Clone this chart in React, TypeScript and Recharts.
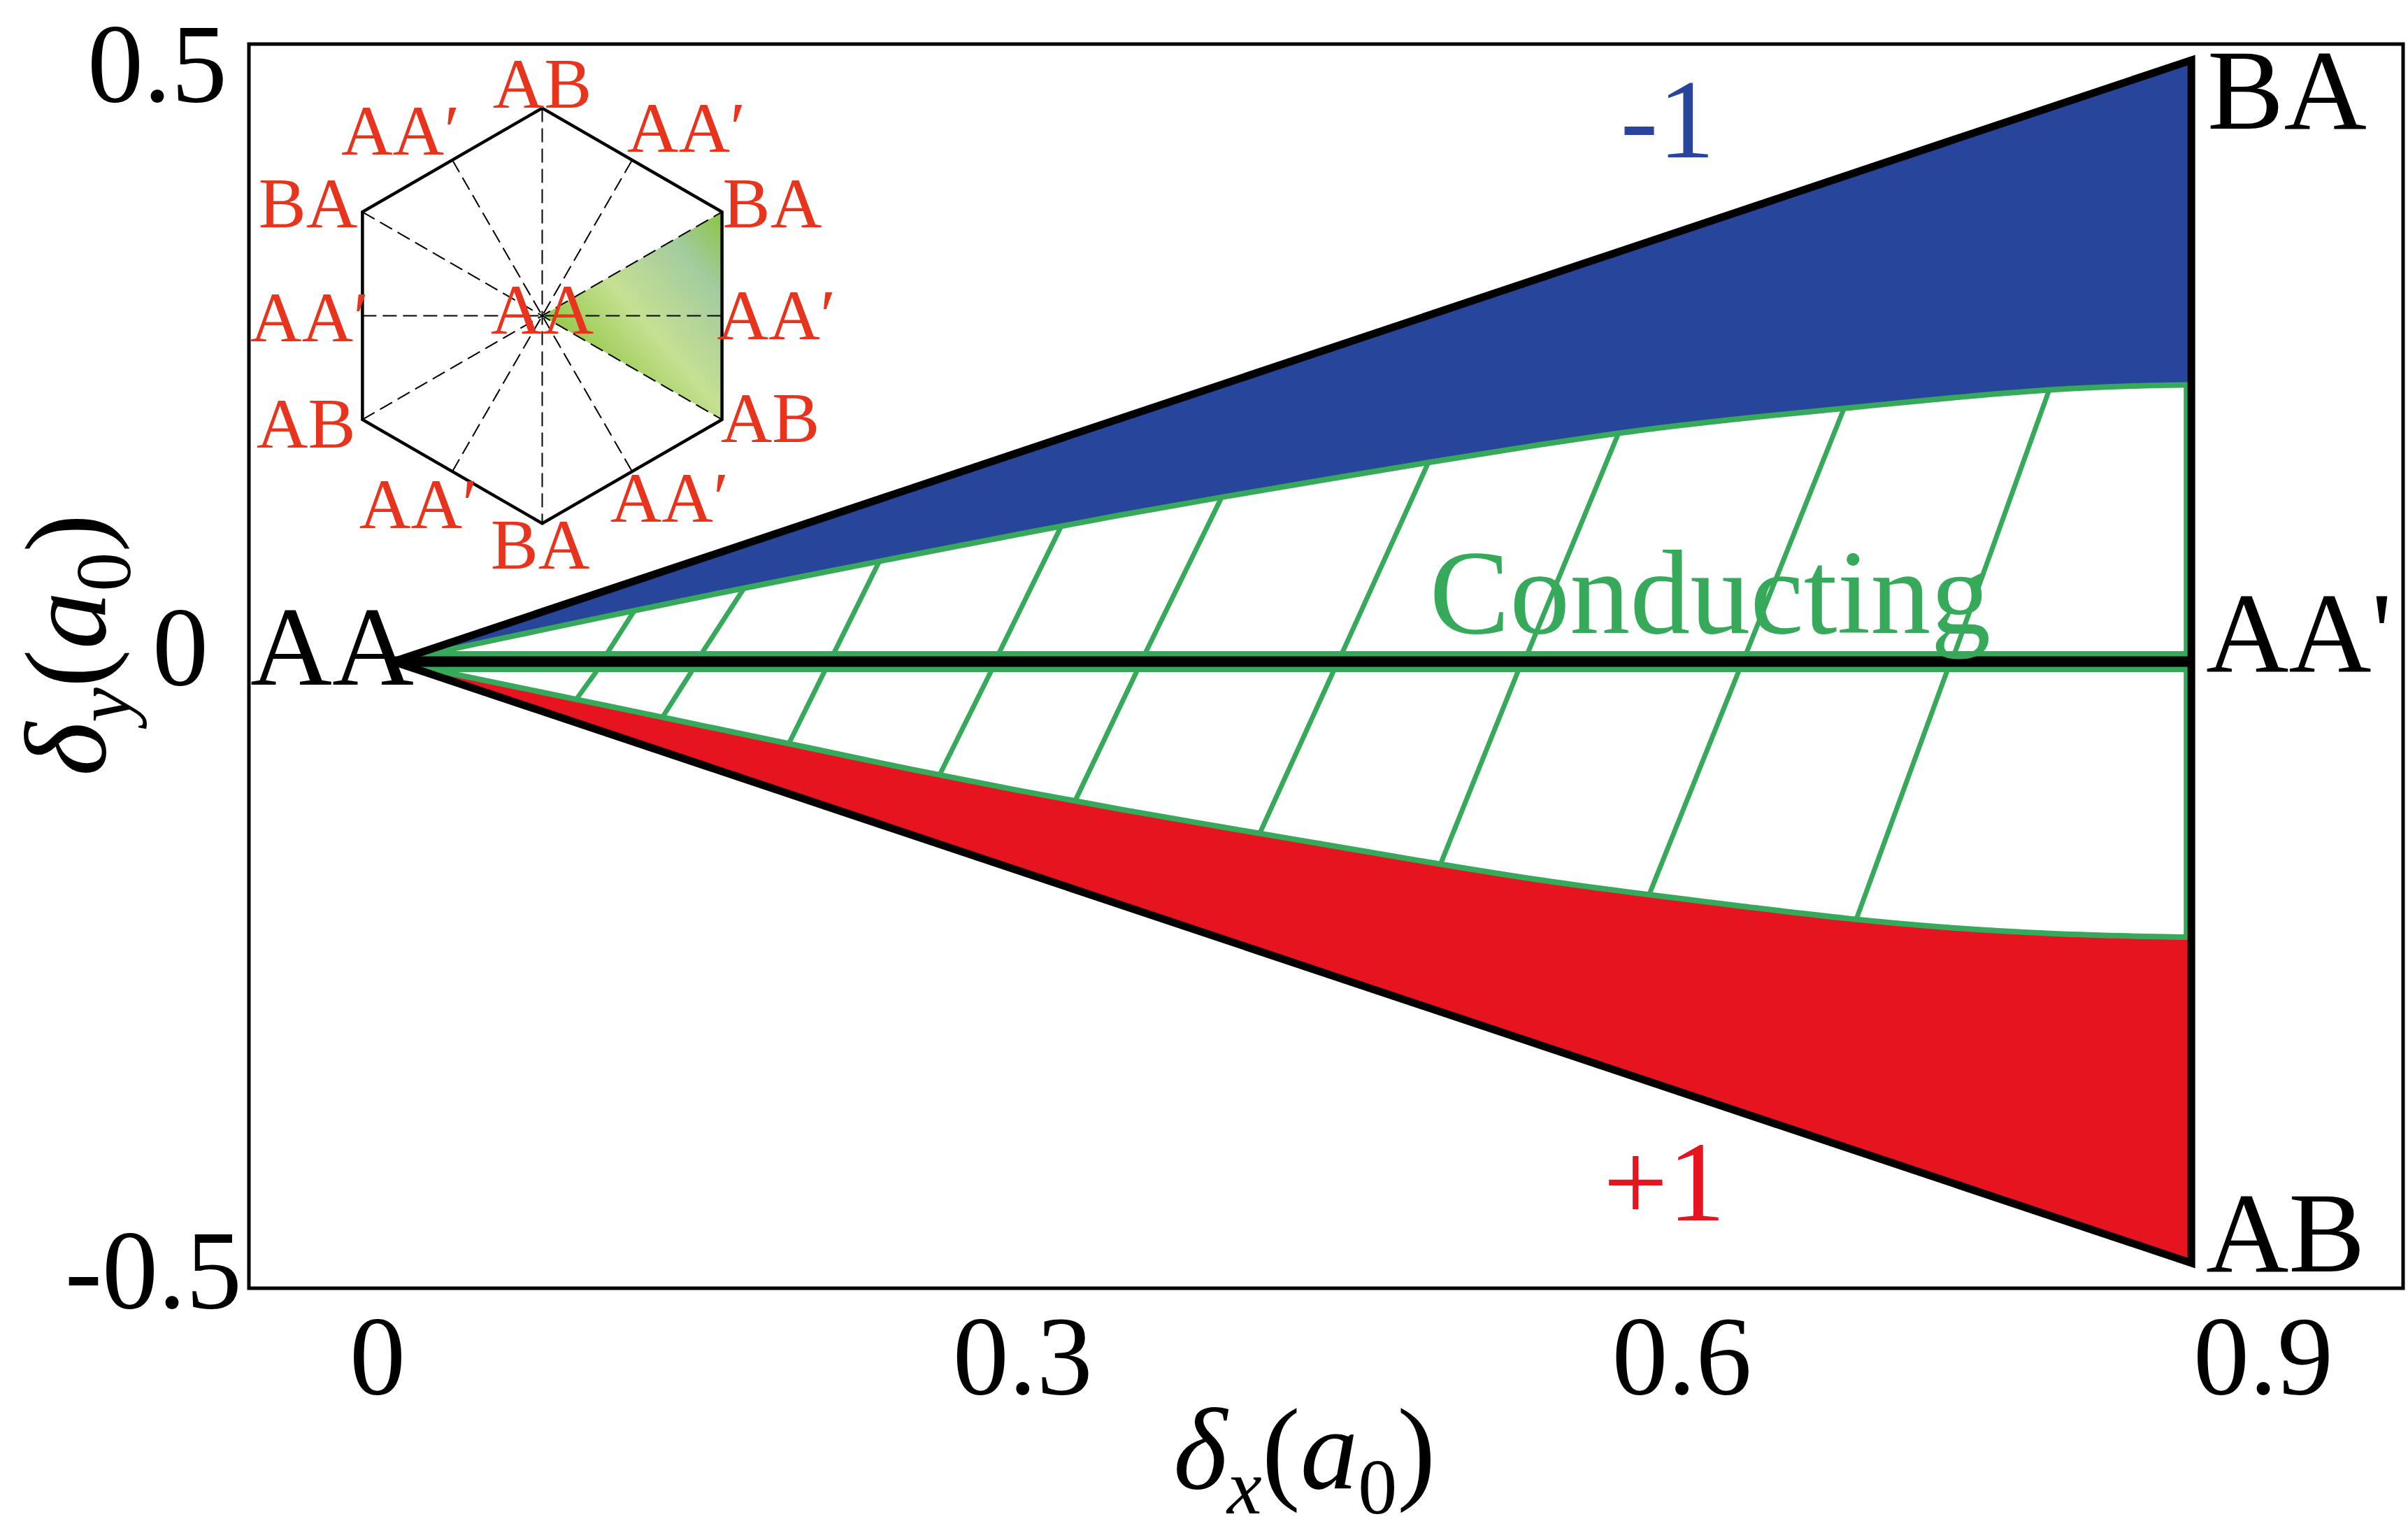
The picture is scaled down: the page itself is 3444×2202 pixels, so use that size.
import React from 'react';
import { ComposedChart, Area, Line, Scatter, XAxis, YAxis, ReferenceArea } from 'recharts';

const SERIF = '"Liberation Serif", "Times New Roman", "DejaVu Serif", serif';
const GREEN = '#36a95a';
const BLUE = '#27459a';
const RED = '#e5141e';
const LABEL_RED = '#e8341c';

// ---------- main chart data (units of a0) ----------
const deltaX = [0, 0.05, 0.1, 0.15, 0.2, 0.25, 0.3, 0.35, 0.4, 0.45, 0.5, 0.55, 0.6, 0.65, 0.7, 0.75, 0.8, 0.85, 0.866];
const conductingUpper = [0, 0.0185, 0.0367, 0.0545, 0.0718, 0.0888, 0.1055, 0.1218, 0.137, 0.1516, 0.166, 0.1797, 0.1922, 0.2022, 0.2108, 0.2192, 0.2262, 0.2296, 0.2301];
const conductingLower = [0, -0.0178, -0.0357, -0.0537, -0.0717, -0.0898, -0.1068, -0.1228, -0.1378, -0.1525, -0.1672, -0.181, -0.1928, -0.2035, -0.2135, -0.2212, -0.2262, -0.2287, -0.2292];
const edgeUpper = [0, 0.0289, 0.0577, 0.0866, 0.1155, 0.1443, 0.1732, 0.2021, 0.2309, 0.2598, 0.2887, 0.3175, 0.3464, 0.3753, 0.4041, 0.433, 0.4619, 0.4907, 0.5];
const edgeLower = [0, -0.0289, -0.0577, -0.0866, -0.1155, -0.1443, -0.1732, -0.2021, -0.2309, -0.2598, -0.2887, -0.3175, -0.3464, -0.3753, -0.4041, -0.433, -0.4619, -0.4907, -0.5];

const hatchUpper = [
  [0.1029, 0.007, 0.116, 0.0424],
  [0.1485, 0.007, 0.1688, 0.0610],
  [0.2121, 0.007, 0.234, 0.0834],
  [0.2916, 0.007, 0.3216, 0.1126],
  [0.3621, 0.007, 0.3989, 0.1367],
  [0.4569, 0.007, 0.4985, 0.1656],
  [0.5463, 0.007, 0.59, 0.1897],
  [0.6516, 0.007, 0.6987, 0.2106],
  [0.752, 0.007, 0.7975, 0.2258],
];
const hatchLower = [
  [0.088, -0.0314, 0.0982, -0.007],
  [0.1295, -0.0463, 0.144, -0.007],
  [0.1904, -0.0682, 0.2079, -0.007],
  [0.263, -0.0942, 0.2881, -0.007],
  [0.3283, -0.1158, 0.3583, -0.007],
  [0.4172, -0.1429, 0.453, -0.007],
  [0.5043, -0.1684, 0.5419, -0.007],
  [0.6048, -0.1938, 0.6482, -0.007],
  [0.7046, -0.2142, 0.7485, -0.007],
];

const boundary = [
  { x: 0, y: 0 },
  { x: 0.866, y: 0.5 },
  { x: 0.866, y: -0.5 },
  { x: 0, y: 0 },
];
const centerLine = [{ x: 0, y: 0 }, { x: 0.866, y: 0 }];
const greenCenterUpper = [{ x: 0.015, y: 0.0064 }, { x: 0.8635, y: 0.0064 }];
const greenCenterLower = [{ x: 0.015, y: -0.0064 }, { x: 0.8635, y: -0.0064 }];
const greenRight = [{ x: 0.8635, y: 0.2301 }, { x: 0.8635, y: -0.2292 }];

const xTicks = [0, 0.3, 0.6, 0.9];
const yTicks = [-0.5, 0, 0.5];
const xDomain = [-0.0697, 0.968];
const yDomain = [-0.521, 0.5134];

const mainLabels = [
  { key: 'BA', text: 'BA', x: 0.8737, y: 0.443 },
  { key: 'AAp', text: "AA'", x: 0.873, y: -0.0081 },
  { key: 'AB', text: 'AB', x: 0.873, y: -0.507 },
  { key: 'AA', text: 'AA', x: -0.069, y: -0.0192 },
  { key: 'minus', text: '-1', x: 0.6137, y: 0.4192 },
  { key: 'plus', text: '+1', x: 0.6121, y: -0.4645 },
  { key: 'cond', text: 'Conducting', x: 0.6342, y: 0.0238 },
];

// ---------- inset data (hexagon radius = 1) ----------
const hexagon = [
  { x: 0, y: 1 },
  { x: 0.866, y: 0.5 },
  { x: 0.866, y: -0.5 },
  { x: 0, y: -1 },
  { x: -0.866, y: -0.5 },
  { x: -0.866, y: 0.5 },
  { x: 0, y: 1 },
];
const spokes = [
  [{ x: 0, y: 1 }, { x: 0, y: -1 }],
  [{ x: -0.866, y: -0.5 }, { x: 0.866, y: 0.5 }],
  [{ x: -0.866, y: 0.5 }, { x: 0.866, y: -0.5 }],
  [{ x: -0.866, y: 0 }, { x: 0.866, y: 0 }],
  [{ x: -0.433, y: -0.75 }, { x: 0.433, y: 0.75 }],
  [{ x: -0.433, y: 0.75 }, { x: 0.433, y: -0.75 }],
];
const wedge = [
  { x: 0, range: [0, 0] },
  { x: 0.866, range: [-0.5, 0.5] },
];
const insetLabels = [
  { text: 'AB', x: 0, y: 1.118 },
  { text: 'AA′', x: -0.683, y: 0.892 },
  { text: 'AA′', x: 0.694, y: 0.906 },
  { text: 'BA', x: -1.128, y: 0.542 },
  { text: 'BA', x: 1.108, y: 0.542 },
  { text: 'AA′', x: -1.121, y: -0.007 },
  { text: 'AA′', x: 1.128, y: 0.003 },
  { text: 'AA', x: 0, y: 0.03 },
  { text: 'AB', x: -1.138, y: -0.522 },
  { text: 'AB', x: 1.098, y: -0.492 },
  { text: 'AA′', x: -0.596, y: -0.909 },
  { text: 'AA′', x: 0.613, y: -0.879 },
  { text: 'BA', x: -0.01, y: -1.104 },
];

// ---------- styles ----------
const mainLabelStyle: Record<string, { fill: string; fontSize: number; anchor: string }> = {
  BA: { fill: '#000', fontSize: 164, anchor: 'start' },
  AAp: { fill: '#000', fontSize: 164, anchor: 'start' },
  AB: { fill: '#000', fontSize: 164, anchor: 'start' },
  AA: { fill: '#000', fontSize: 162, anchor: 'start' },
  minus: { fill: BLUE, fontSize: 162, anchor: 'middle' },
  plus: { fill: RED, fontSize: 164, anchor: 'middle' },
  cond: { fill: GREEN, fontSize: 172, anchor: 'middle' },
};
const xTickShift: Record<string, number> = { '0': -23, '0.3': 9, '0.6': 61, '0.9': 2 };
const yTickShiftX: Record<string, number> = { '0.5': -31, '0': -58, '-0.5': -10 };
const yTickShiftY: Record<string, number> = { '0.5': 59, '0': 33, '-0.5': 64 };

const rows = deltaX.map((x, i) => ({
  x,
  gU: conductingUpper[i],
  gL: conductingLower[i],
  blue: [conductingUpper[i], edgeUpper[i]],
  red: [edgeLower[i], conductingLower[i]],
}));

const seg = (h: number[]) => [{ x: h[0], y: h[1] }, { x: h[2], y: h[3] }];

const renderXTick = (props: any) => {
  const { x, y, payload } = props;
  const key = String(payload.value);
  return (
    <text x={x + (xTickShift[key] ?? 0)} y={y + 151} textAnchor="middle" fontFamily={SERIF} fontSize={160} fill="#000">
      {key}
    </text>
  );
};
const renderYTick = (props: any) => {
  const { x, y, payload } = props;
  const key = String(payload.value);
  return (
    <text x={x + (yTickShiftX[key] ?? 0)} y={y + (yTickShiftY[key] ?? 54)} textAnchor="end" fontFamily={SERIF} fontSize={160} fill="#000">
      {key}
    </text>
  );
};

const renderXTitle = (props: any) => {
  const vb = props && props.viewBox ? props.viewBox : { x: 356, y: 1842, width: 3081, height: 360 };
  const cx = vb.x + vb.width * 0.49;
  const cy = vb.y + 286;
  return (
    <text x={cx} y={cy} textAnchor="middle" fontFamily={SERIF} fontSize={165} fill="#000">
      <tspan fontStyle="italic">δ</tspan>
      <tspan fontStyle="italic" fontSize={112} dy={36}>x</tspan>
      <tspan dy={-36}>(</tspan>
      <tspan fontStyle="italic">a</tspan>
      <tspan fontSize={112} dy={36}>0</tspan>
      <tspan dy={-36}>)</tspan>
    </text>
  );
};
const renderYTitle = (props: any) => {
  const vb = props && props.viewBox ? props.viewBox : { x: 0, y: 63, width: 356, height: 1779 };
  const cx = vb.x + 150;
  const cy = vb.y + vb.height * 0.483;
  return (
    <text x={cx} y={cy} transform={`rotate(-90, ${cx}, ${cy})`} textAnchor="middle" fontFamily={SERIF} fontSize={165} fill="#000">
      <tspan fontStyle="italic">δ</tspan>
      <tspan fontStyle="italic" fontSize={112} dy={36}>y</tspan>
      <tspan dy={-36}>(</tspan>
      <tspan fontStyle="italic">a</tspan>
      <tspan fontSize={112} dy={36}>0</tspan>
      <tspan dy={-36}>)</tspan>
    </text>
  );
};

const renderMainLabel = (props: any) => {
  const { cx, cy, payload } = props;
  const st = mainLabelStyle[payload.key];
  return (
    <text x={cx} y={cy} textAnchor={st.anchor as any} fontFamily={SERIF} fontSize={st.fontSize} fill={st.fill}>
      {payload.text}
    </text>
  );
};
const renderInsetLabel = (props: any) => {
  const { cx, cy, payload } = props;
  return (
    <text x={cx} y={cy + 34} textAnchor="middle" fontFamily={SERIF} fontSize={102} fill={LABEL_RED}>
      {payload.text}
    </text>
  );
};

const lineProps = { dot: false, activeDot: false, isAnimationActive: false, legendType: 'none' as const };

function MainChart() {
  return (
    <ComposedChart width={3444} height={2202} data={rows} margin={{ top: 63, right: 7, bottom: 0, left: 0 }}>
      <XAxis
        type="number"
        dataKey="x"
        domain={xDomain}
        allowDataOverflow
        ticks={xTicks}
        interval={0}
        height={360}
        tickSize={0}
        tickMargin={0}
        tickLine={false}
        axisLine={false}
        tick={renderXTick}
        label={renderXTitle}
      />
      <YAxis
        type="number"
        domain={yDomain}
        allowDataOverflow
        ticks={yTicks}
        interval={0}
        width={356}
        tickSize={0}
        tickMargin={0}
        tickLine={false}
        axisLine={false}
        tick={renderYTick}
        label={renderYTitle}
      />
      <ReferenceArea
        x1={xDomain[0]}
        x2={xDomain[1]}
        y1={yDomain[0]}
        y2={yDomain[1]}
        fill="none"
        fillOpacity={0}
        stroke="#000"
        strokeWidth={5}
        ifOverflow="visible"
      />
      <Area type="monotone" dataKey="blue" fill={BLUE} fillOpacity={1} stroke="none" isAnimationActive={false} activeDot={false} />
      <Area type="monotone" dataKey="red" fill={RED} fillOpacity={1} stroke="none" isAnimationActive={false} activeDot={false} />
      {hatchUpper.map((h, i) => (
        <Line key={`hu${i}`} data={seg(h)} dataKey="y" type="linear" stroke={GREEN} strokeWidth={7} {...lineProps} />
      ))}
      {hatchLower.map((h, i) => (
        <Line key={`hl${i}`} data={seg(h)} dataKey="y" type="linear" stroke={GREEN} strokeWidth={7} {...lineProps} />
      ))}
      <Line data={greenCenterUpper} dataKey="y" type="linear" stroke={GREEN} strokeWidth={8} {...lineProps} />
      <Line data={greenCenterLower} dataKey="y" type="linear" stroke={GREEN} strokeWidth={8} {...lineProps} />
      <Line data={greenRight} dataKey="y" type="linear" stroke={GREEN} strokeWidth={7} {...lineProps} />
      <Line dataKey="gU" type="monotone" stroke={GREEN} strokeWidth={8} {...lineProps} />
      <Line dataKey="gL" type="monotone" stroke={GREEN} strokeWidth={8} {...lineProps} />
      <Line data={centerLine} dataKey="y" type="linear" stroke="#000" strokeWidth={15} {...lineProps} />
      <Line data={boundary} dataKey="y" type="linear" stroke="#000" strokeWidth={11} strokeLinejoin="miter" {...lineProps} />
      <Scatter data={mainLabels} dataKey="y" shape={renderMainLabel} isAnimationActive={false} legendType="none" />
    </ComposedChart>
  );
}

function InsetChart() {
  return (
    <ComposedChart width={861} height={861} data={wedge} margin={{ top: 0, right: 0, bottom: 0, left: 0 }}>
      <defs>
        <linearGradient id="wedgeGrad" x1="0" y1="1" x2="1" y2="0">
          <stop offset="0" stopColor="#86c23a" />
          <stop offset="0.3" stopColor="#9ccc55" />
          <stop offset="0.52" stopColor="#c6e092" />
          <stop offset="0.8" stopColor="#a2cb9f" />
          <stop offset="1" stopColor="#8cc43d" />
        </linearGradient>
      </defs>
      <XAxis type="number" dataKey="x" domain={[-1.45, 1.45]} allowDataOverflow hide />
      <YAxis type="number" domain={[-1.45, 1.45]} allowDataOverflow hide />
      <Area type="linear" dataKey="range" fill="url(#wedgeGrad)" fillOpacity={1} stroke="none" isAnimationActive={false} activeDot={false} />
      {spokes.map((s, i) => (
        <Line key={`sp${i}`} data={s} dataKey="y" type="linear" stroke="#000" strokeWidth={2} strokeDasharray="20 9" {...lineProps} />
      ))}
      <Line data={hexagon} dataKey="y" type="linear" stroke="#000" strokeWidth={4.5} strokeLinecap="round" strokeLinejoin="miter" {...lineProps} />
      <Scatter data={insetLabels} dataKey="y" shape={renderInsetLabel} isAnimationActive={false} legendType="none" />
    </ComposedChart>
  );
}

export default function App() {
  return (
    <div style={{ position: 'absolute', left: 0, top: 0, width: 3444, height: 2202, background: '#fff' }}>
      <MainChart />
      <div style={{ position: 'absolute', left: 345, top: 21, width: 861, height: 861 }}>
        <InsetChart />
      </div>
    </div>
  );
}
